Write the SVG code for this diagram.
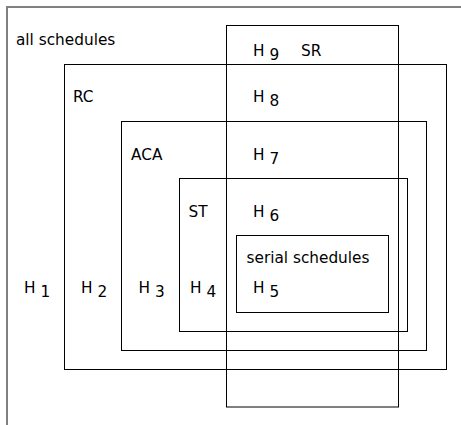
<svg xmlns="http://www.w3.org/2000/svg" width="461" height="425" viewBox="0 0 461 425">
<style>
.box{fill:none;stroke:#000;stroke-width:1}
.frame{fill:none;stroke:#808080;stroke-width:2}
text{font-family:"DejaVu Sans",sans-serif;font-size:15.3px;fill:#000}
</style>
<rect width="461" height="425" fill="#fff"/>
<g id="all-schedules">
<rect class="frame" x="7" y="7" width="480" height="440"/>
<text x="16" y="45">all schedules</text>
<text x="24" y="292.5">H <tspan dy="4">1</tspan></text>
</g>
<g id="RC">
<rect class="box" x="64.5" y="64.5" width="382" height="305"/>
<text x="73" y="101.5">RC</text>
<text x="81" y="292.5">H <tspan dy="4">2</tspan></text>
</g>
<g id="ACA">
<rect class="box" x="121.5" y="121.5" width="305" height="229"/>
<text x="131" y="160">ACA</text>
<text x="138.5" y="292.5">H <tspan dy="4">3</tspan></text>
</g>
<g id="ST">
<rect class="box" x="179.5" y="178.5" width="228" height="153"/>
<text x="188.5" y="216.5">ST</text>
<text x="190" y="292.5">H <tspan dy="4">4</tspan></text>
</g>
<g id="serial-schedules">
<rect class="box" x="236.5" y="235.5" width="152" height="77"/>
<text x="246.5" y="263">serial schedules</text>
<text x="253" y="292.5">H <tspan dy="4">5</tspan></text>
</g>
<g id="SR">
<rect class="box" x="226.5" y="25.5" width="172" height="381.5"/>
<text x="301" y="56">SR</text>
<text x="253" y="56">H <tspan dy="4">9</tspan></text>
<text x="253" y="101.5">H <tspan dy="4">8</tspan></text>
<text x="253" y="160">H <tspan dy="4">7</tspan></text>
<text x="253" y="216.5">H <tspan dy="4">6</tspan></text>
</g>
<g id="connectors"/>
</svg>
